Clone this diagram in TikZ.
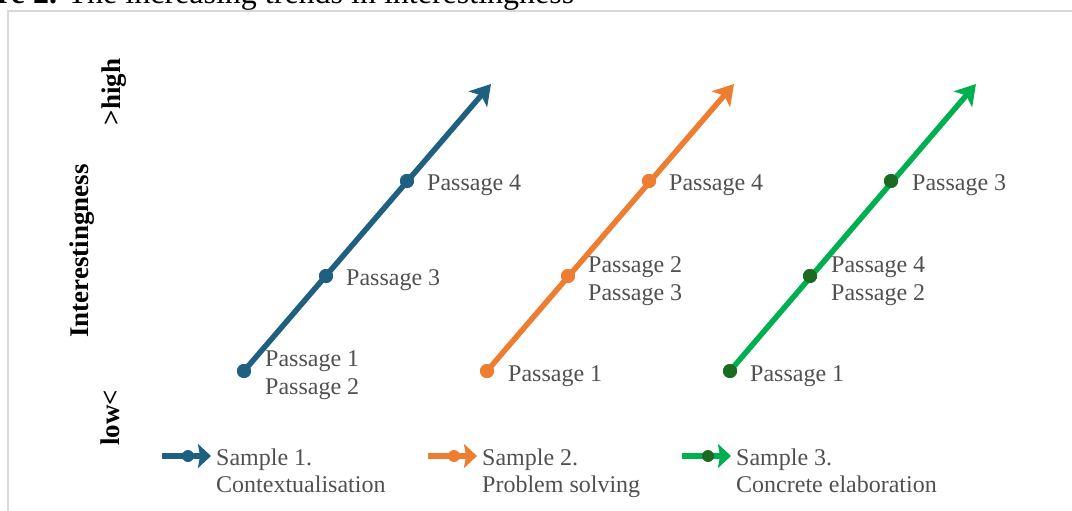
\documentclass[tikz,border=0pt]{standalone}
\usepackage{fontspec}
\setmainfont{Liberation Serif}
\usetikzlibrary{arrows.meta}
\definecolor{sblue}{HTML}{1F5F80}
\definecolor{sorange}{HTML}{ED7D31}
\definecolor{sgreen}{HTML}{00B050}
\definecolor{sgreendot}{HTML}{1B6A22}
\definecolor{tgray}{HTML}{505050}
\definecolor{framegray}{HTML}{D9D9D9}
\begin{document}
\begin{tikzpicture}[x=1pt,y=-1pt,
  lbl/.style={anchor=base west, inner sep=0pt, text=tgray, font=\fontsize{24}{28}\selectfont},
  axislbl/.style={rotate=90, anchor=base, inner sep=0pt, text=black, font=\fontsize{27}{30}\selectfont\bfseries},
  trend/.style={line width=5.5pt, -{Stealth[length=20pt,width=24pt,inset=5pt]}},
  legline/.style={line width=5.5pt, -{Stealth[length=13pt,width=24pt,inset=2pt]}},
  dot/.style={circle, inner sep=0pt, minimum size=14pt},
  legdot/.style={circle, inner sep=0pt, minimum size=12pt}]
\useasboundingbox (0,0) rectangle (1072,511);
% title (clipped at top, as in the reference)
\node[anchor=base west, inner sep=0pt, font=\fontsize{32}{36}\selectfont] (title) at (-3,4) {\textbf{re 2.} The increasing trends in interestingness};
% frame
\draw[framegray, line width=2pt] (8,520) -- (8,11) -- (1080,11);
% axis labels
\node[axislbl] (ylab) at (88,251) {Interestingness};
\node[axislbl] (yhigh) at (120,92) {>high};
\node[axislbl] (ylow) at (119,418) {low<};
% Sample 1 (blue)
\node[dot, fill=sblue] (b1) at (244,371) {};
\node[dot, fill=sblue] (b2) at (326,276) {};
\node[dot, fill=sblue] (b3) at (407,181) {};
\coordinate (bt) at (491,84);
\draw[trend, sblue] (b1.center) -- (bt);
\node[dot, fill=sblue] at (b1) {};
\node[dot, fill=sblue] at (b2) {};
\node[dot, fill=sblue] at (b3) {};
\node[lbl] (bl1a) at (265,366) {Passage 1};
\node[lbl] (bl1b) at (265,394) {Passage 2};
\node[lbl] (bl2) at (346,285) {Passage 3};
\node[lbl] (bl3) at (427,190) {Passage 4};
% Sample 2 (orange)
\node[dot, fill=sorange] (o1) at (487,371) {};
\node[dot, fill=sorange] (o2) at (568,276) {};
\node[dot, fill=sorange] (o3) at (649,181) {};
\coordinate (ot) at (734,84);
\draw[trend, sorange] (o1.center) -- (ot);
\node[dot, fill=sorange] at (o1) {};
\node[dot, fill=sorange] at (o2) {};
\node[dot, fill=sorange] at (o3) {};
\node[lbl] (ol1) at (508,381) {Passage 1};
\node[lbl] (ol2a) at (588,272) {Passage 2};
\node[lbl] (ol2b) at (588,300) {Passage 3};
\node[lbl] (ol3) at (669,190) {Passage 4};
% Sample 3 (green)
\node[dot, fill=sgreendot] (g1) at (730,371) {};
\node[dot, fill=sgreendot] (g2) at (810,276) {};
\node[dot, fill=sgreendot] (g3) at (891,181) {};
\coordinate (gt) at (976,84);
\draw[trend, sgreen] (g1.center) -- (gt);
\node[dot, fill=sgreendot] at (g1) {};
\node[dot, fill=sgreendot] at (g2) {};
\node[dot, fill=sgreendot] at (g3) {};
\node[lbl] (gl1) at (750,381) {Passage 1};
\node[lbl] (gl2a) at (831,272) {Passage 4};
\node[lbl] (gl2b) at (831,300) {Passage 2};
\node[lbl] (gl3) at (912,190) {Passage 3};
% legend
\coordinate (lb0) at (162,456);
\coordinate (lb1) at (211,456);
\draw[legline, sblue] (lb0) -- (lb1);
\node[legdot, fill=sblue] (lbd) at (188,456) {};
\node[lbl] (lbt1) at (216,465) {Sample 1.};
\node[lbl] (lbt2) at (216,492) {Contextualisation};
\coordinate (lo0) at (428,456);
\coordinate (lo1) at (477,456);
\draw[legline, sorange] (lo0) -- (lo1);
\node[legdot, fill=sorange] (lod) at (454,456) {};
\node[lbl] (lot1) at (482,465) {Sample 2.};
\node[lbl] (lot2) at (482,492) {Problem solving};
\coordinate (lg0) at (682,456);
\coordinate (lg1) at (731,456);
\draw[legline, sgreen] (lg0) -- (lg1);
\node[legdot, fill=sgreendot] (lgd) at (708,456) {};
\node[lbl] (lgt1) at (736,465) {Sample 3.};
\node[lbl] (lgt2) at (736,492) {Concrete elaboration};
\end{tikzpicture}
\end{document}
